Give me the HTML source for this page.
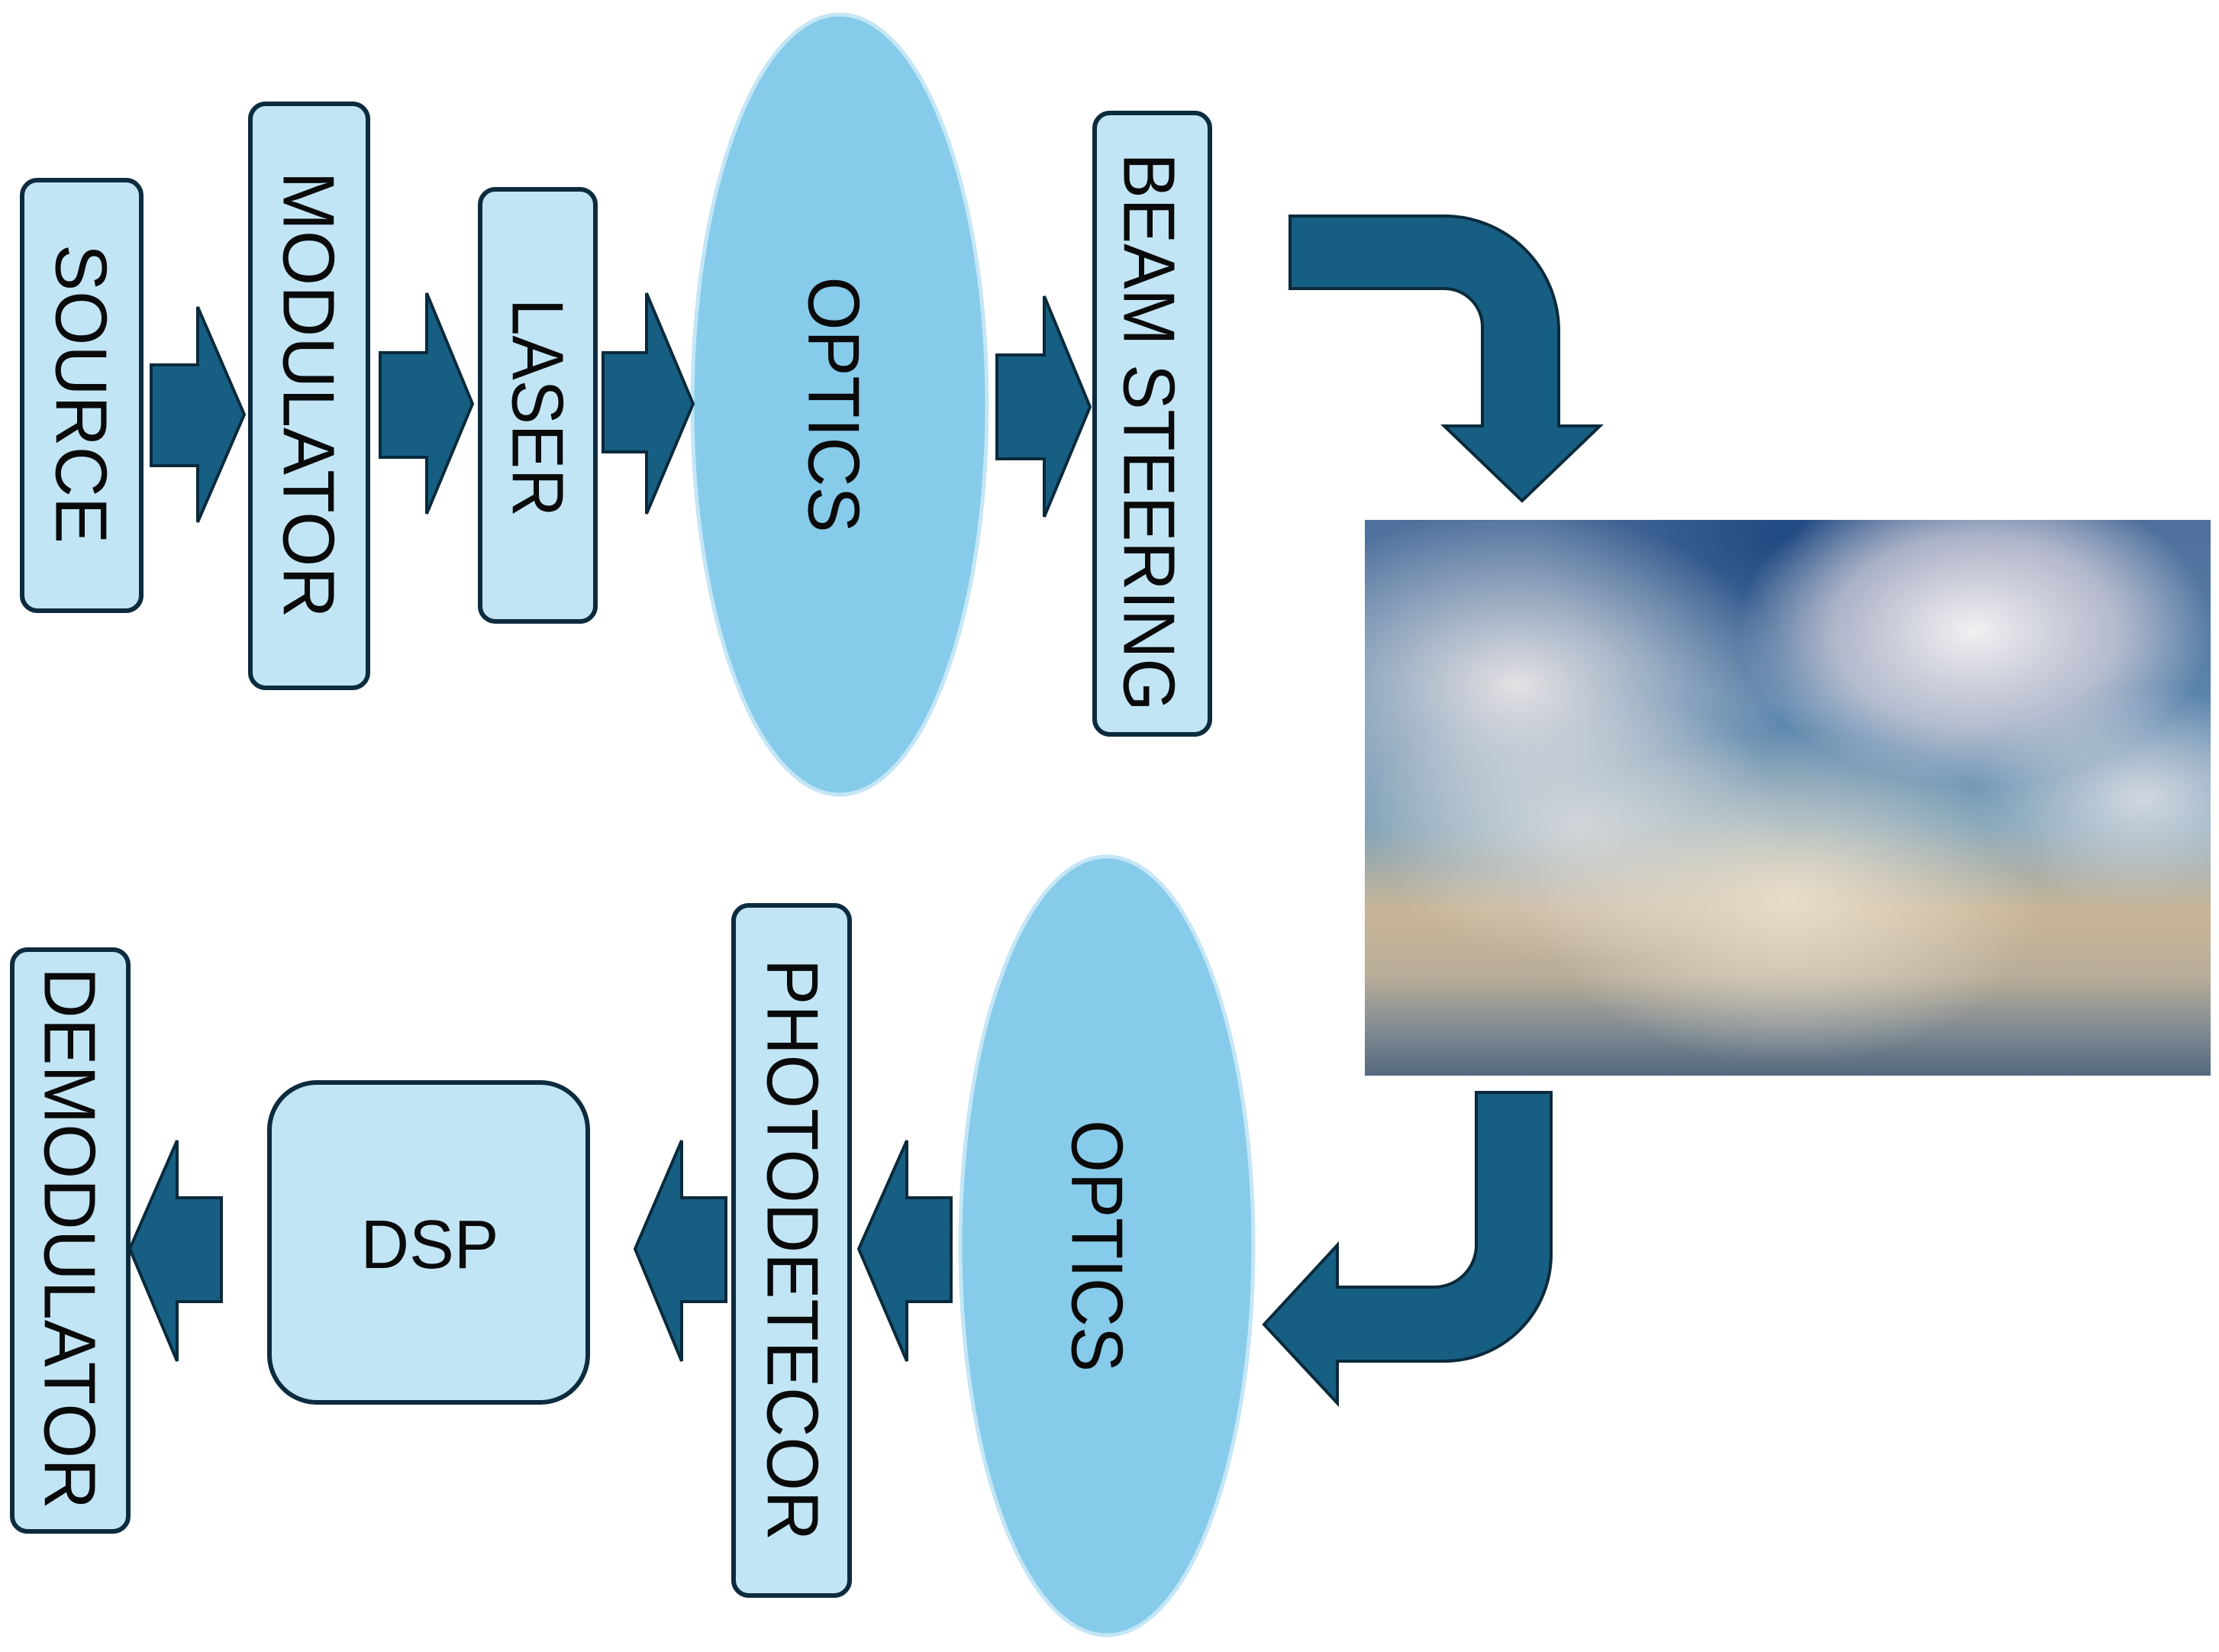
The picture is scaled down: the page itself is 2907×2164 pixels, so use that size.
<!DOCTYPE html>
<html><head><meta charset="utf-8"><style>
html,body{margin:0;padding:0;background:#fff;}
svg{display:block;}
text{font-family:"Liberation Sans",Arial,sans-serif;fill:#0a0a0a;}
</style></head><body>
<svg width="2907" height="2164" viewBox="0 0 2907 2164" xmlns="http://www.w3.org/2000/svg">
<defs>
<linearGradient id="sky" x1="0" y1="0" x2="0" y2="1">
<stop offset="0" stop-color="#4f6f9c"/>
<stop offset="0.35" stop-color="#5d86ad"/>
<stop offset="0.55" stop-color="#7fa2b8"/>
<stop offset="0.7" stop-color="#c7b597"/>
<stop offset="0.82" stop-color="#b9ad98"/>
<stop offset="0.92" stop-color="#7f8a92"/>
<stop offset="1" stop-color="#54697e"/>
</linearGradient>
<radialGradient id="c1" cx="0.72" cy="0.2" r="0.28"><stop offset="0" stop-color="#f3f0f2" stop-opacity="1"/><stop offset="0.6" stop-color="#dcd6de" stop-opacity="0.7"/><stop offset="1" stop-color="#e6e0e6" stop-opacity="0"/></radialGradient>
<radialGradient id="c2" cx="0.18" cy="0.3" r="0.32"><stop offset="0" stop-color="#ece6e6" stop-opacity="0.95"/><stop offset="1" stop-color="#ddd" stop-opacity="0"/></radialGradient>
<radialGradient id="c3" cx="0.5" cy="0.03" r="0.3"><stop offset="0" stop-color="#1d4680" stop-opacity="0.95"/><stop offset="1" stop-color="#1f4a82" stop-opacity="0"/></radialGradient>
<radialGradient id="c4" cx="0.5" cy="0.68" r="0.3"><stop offset="0" stop-color="#efe4d0" stop-opacity="0.85"/><stop offset="1" stop-color="#efe6d8" stop-opacity="0"/></radialGradient>
<radialGradient id="c5" cx="0.92" cy="0.5" r="0.2"><stop offset="0" stop-color="#e8e6ea" stop-opacity="0.8"/><stop offset="1" stop-color="#e8e6ea" stop-opacity="0"/></radialGradient>
<radialGradient id="c6" cx="0.25" cy="0.55" r="0.25"><stop offset="0" stop-color="#eae6e4" stop-opacity="0.7"/><stop offset="1" stop-color="#eae6e4" stop-opacity="0"/></radialGradient>
</defs>

<g>
<rect x="1788" y="681" width="1108" height="728" fill="url(#sky)"/>
<rect x="1788" y="681" width="1108" height="728" fill="url(#c3)"/>
<rect x="1788" y="681" width="1108" height="728" fill="url(#c2)"/>
<rect x="1788" y="681" width="1108" height="728" fill="url(#c6)"/>
<rect x="1788" y="681" width="1108" height="728" fill="url(#c1)"/>
<rect x="1788" y="681" width="1108" height="728" fill="url(#c4)"/>
<rect x="1788" y="681" width="1108" height="728" fill="url(#c5)"/>
</g>

<g fill="#c2e5f5" stroke="#0d2b3e" stroke-width="6">
<rect x="29" y="236" width="156" height="564" rx="20"/>
<rect x="328" y="136" width="154" height="765" rx="20"/>
<rect x="629" y="248" width="151" height="566" rx="20"/>
<rect x="1434" y="148" width="151" height="814" rx="20"/>
<rect x="16" y="1244" width="152" height="762" rx="20"/>
<rect x="353" y="1418" width="417" height="419" rx="62"/>
<rect x="961" y="1186" width="152" height="904" rx="20"/>
</g>

<ellipse cx="1100" cy="530" rx="193" ry="511" fill="#87cbea" stroke="#c4e6f6" stroke-width="5"/>
<ellipse cx="1450" cy="1632" rx="192" ry="510" fill="#87cbea" stroke="#c4e6f6" stroke-width="5"/>

<g fill="#175f82" stroke="#0a2a3c" stroke-width="4" stroke-linejoin="miter">
<polygon points="198,478 259,478 259,402 320,543 259,684 259,610 198,610"/>
<polygon points="498,462 559,462 559,384 619,529 559,673 559,599 498,599"/>
<polygon points="790,462 847,462 847,384 908,529 847,673 847,592 790,592"/>
<polygon points="1306,465 1368,465 1368,388 1428,533 1368,677 1368,601 1306,601"/>
<polygon points="290,1569 232,1569 232,1494 170,1636 232,1783 232,1705 290,1705"/>
<polygon points="951,1569 893,1569 893,1494 832,1636 893,1783 893,1705 951,1705"/>
<polygon points="1246,1569 1188,1569 1188,1494 1125,1636 1188,1783 1188,1705 1246,1705"/>
<path d="M1690,283 L1892,283 A150,150 0 0 1 2042,433 L2042,558 L2096,558 L1994,656 L1892,558 L1942,558 L1942,428 A50,50 0 0 0 1892,378 L1690,378 Z"/>
<path d="M1934,1431 L2032,1431 L2032,1643 A140,140 0 0 1 1892,1783 L1752,1783 L1752,1838 L1656,1735 L1752,1631 L1752,1686 L1879,1686 A55,55 0 0 0 1934,1631 Z"/>
</g>

<g font-size="96">
<text transform="translate(107,516) rotate(90)" text-anchor="middle" dy="0.35em" textLength="392" lengthAdjust="spacingAndGlyphs">SOURCE</text>
<text transform="translate(405,517) rotate(90)" text-anchor="middle" dy="0.35em" textLength="585" lengthAdjust="spacingAndGlyphs">MODULATOR</text>
<text transform="translate(705,534) rotate(90)" text-anchor="middle" dy="0.35em" textLength="286" lengthAdjust="spacingAndGlyphs">LASER</text>
<text transform="translate(1093,530) rotate(90)" text-anchor="middle" dy="0.35em" textLength="335" lengthAdjust="spacingAndGlyphs">OPTICS</text>
<text transform="translate(1506,566) rotate(90)" text-anchor="middle" dy="0.35em" textLength="731" lengthAdjust="spacingAndGlyphs">BEAM STEERING</text>
<text transform="translate(92,1622) rotate(90)" text-anchor="middle" dy="0.35em" textLength="710" lengthAdjust="spacingAndGlyphs">DEMODULATOR</text>
<text transform="translate(1039,1637) rotate(90)" text-anchor="middle" dy="0.35em" textLength="762" lengthAdjust="spacingAndGlyphs">PHOTODETECOR</text>
<text transform="translate(1438,1632) rotate(90)" text-anchor="middle" dy="0.35em" textLength="330" lengthAdjust="spacingAndGlyphs">OPTICS</text>
<text x="563" y="1661" text-anchor="middle" font-size="90" textLength="181" lengthAdjust="spacingAndGlyphs">DSP</text>
</g>
</svg>
</body></html>
